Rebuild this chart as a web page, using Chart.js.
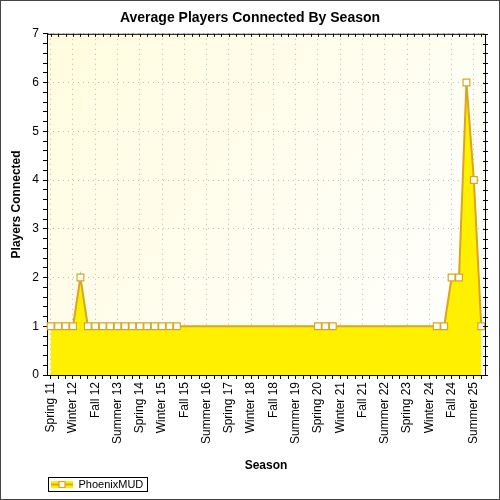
<!DOCTYPE html>
<html>
<head>
<meta charset="utf-8">
<script src="https://cdn.jsdelivr.net/npm/chart.js@4.4.1/dist/chart.umd.min.js"></script>
<style>
  html, body { margin: 0; padding: 0; background: #ffffff; }
  #wrap { width: 500px; height: 500px; }
</style>
</head>
<body>
<div id="wrap"><canvas id="grafico" width="500" height="500"></canvas></div>
<script>
// Seasons on the x axis (every third one gets a label)
const seasons = [
    "Spring 11", "Summer 11", "Fall 11",
    "Winter 12", "Spring 12", "Summer 12", "Fall 12",
    "Winter 13", "Spring 13", "Summer 13", "Fall 13",
    "Winter 14", "Spring 14", "Summer 14", "Fall 14",
    "Winter 15", "Spring 15", "Summer 15", "Fall 15",
    "Winter 16", "Spring 16", "Summer 16", "Fall 16",
    "Winter 17", "Spring 17", "Summer 17", "Fall 17",
    "Winter 18", "Spring 18", "Summer 18", "Fall 18",
    "Winter 19", "Spring 19", "Summer 19", "Fall 19",
    "Winter 20", "Spring 20", "Summer 20", "Fall 20",
    "Winter 21", "Spring 21", "Summer 21", "Fall 21",
    "Winter 22", "Spring 22", "Summer 22", "Fall 22",
    "Winter 23", "Spring 23", "Summer 23", "Fall 23",
    "Winter 24", "Spring 24", "Summer 24", "Fall 24",
    "Winter 25", "Spring 25", "Summer 25", "Fall 25"
];

// Average players per season, null = no data recorded
const phoenixMud = [
    1, 1, 1, 1, 2, 1, 1, 1, 1, 1, 1, 1, 1, 1, 1, 1, 1, 1,
    null, null, null, null, null, null, null, null, null,
    null, null, null, null, null, null, null, null, null,
    1, 1, 1,
    null, null, null, null, null, null, null, null, null, null, null, null, null,
    1, 1, 2, 2, 6, 4, 1
];

const yTickLabels = [0, 1, 2, 3, 4, 5, 6, 7];

const LINE_COLOR = "#DAA520";
const FILL_COLOR = "#FFF000";
const GRID_COLOR = "#BBBBBB";
const FONT = "'Liberation Sans', Arial, sans-serif";

const isWhole = v => Math.abs(v - Math.round(v)) < 1e-6;

// Background gradient in the plot area and outer frame
const decoPlugin = {
    id: "deco",
    beforeDraw(chart) {
        const { ctx, chartArea: a } = chart;
        ctx.save();
        ctx.fillStyle = "#ffffff";
        ctx.fillRect(0, 0, chart.width, chart.height);
        const g = ctx.createLinearGradient(a.left, a.top, a.right, a.bottom);
        g.addColorStop(0, "#FFFCDE");
        g.addColorStop(1, "#FFFFFF");
        ctx.fillStyle = g;
        ctx.fillRect(a.left, a.top, a.right - a.left, a.bottom - a.top);
        ctx.restore();
    },
    afterDraw(chart) {
        const { ctx, chartArea: a, scales } = chart;
        ctx.save();
        // top and right borders with small ticks
        ctx.strokeStyle = "#000000";
        ctx.lineWidth = 1;
        ctx.beginPath();
        ctx.moveTo(a.left, a.top + 0.5);
        ctx.lineTo(a.right + 0.5, a.top + 0.5);
        ctx.lineTo(a.right + 0.5, a.bottom);
        seasons.forEach((s, i) => {
            const x = Math.round(scales.x.getPixelForValue(i)) + 0.5;
            ctx.moveTo(x, a.top);
            ctx.lineTo(x, a.top + 3);
        });
        scales.y.ticks.forEach(t => {
            const y = Math.round(scales.y.getPixelForValue(t.value)) + 0.5;
            ctx.moveTo(a.right - 2, y);
            ctx.lineTo(a.right + 3, y);
        });
        ctx.stroke();

        // legend frame and symbol
        const hb = chart.legend.legendHitBoxes[0];
        if (hb) {
            ctx.strokeStyle = "#000000";
            ctx.strokeRect(Math.round(hb.left) - 2.5, Math.round(hb.top) - 1.5, Math.round(hb.width) + 7, Math.round(hb.height) + 3);
            const cy = hb.top + hb.height / 2;
            ctx.strokeStyle = LINE_COLOR;
            ctx.lineWidth = 2;
            ctx.beginPath();
            ctx.moveTo(hb.left, cy);
            ctx.lineTo(hb.left + 22, cy);
            ctx.stroke();
            ctx.fillStyle = "#ffffff";
            ctx.lineWidth = 1.2;
            ctx.fillRect(hb.left + 8, cy - 3, 6, 6);
            ctx.strokeRect(hb.left + 8, cy - 3, 6, 6);
        }

        // frame around whole picture
        ctx.strokeStyle = "#444444";
        ctx.lineWidth = 1;
        ctx.strokeRect(0.5, 0.5, chart.width - 1, chart.height - 1);
        ctx.restore();
    }
};

const ctx = document.getElementById("grafico").getContext("2d");
const grafico = new Chart(ctx, {
    type: "line",
    data: {
        labels: seasons,
        datasets: [
            {
                label: "PhoenixMUD",
                data: phoenixMud,
                borderColor: LINE_COLOR,
                backgroundColor: FILL_COLOR,
                borderWidth: 2,
                fill: "origin",
                tension: 0,
                spanGaps: true,
                // gaps keep the fill at the last level but have no line
                segment: {
                    borderColor: c => (c.p1DataIndex - c.p0DataIndex > 1 ? "rgba(0,0,0,0)" : undefined)
                },
                pointStyle: "rect",
                pointRadius: 4.8,
                pointBorderWidth: 1.2,
                pointBackgroundColor: "#ffffff",
                pointBorderColor: LINE_COLOR
            }
        ]
    },
    plugins: [decoPlugin],
    options: {
        responsive: false,
        animation: false,
        devicePixelRatio: 1,
        layout: { padding: { left: 0, right: 0, top: 0, bottom: 0 } },
        plugins: {
            title: {
                display: true,
                text: "Average Players Connected By Season",
                color: "#000000",
                font: { family: FONT, size: 14, weight: "bold" },
                padding: { top: 10, bottom: 7 }
            },
            legend: {
                position: "bottom",
                align: "start",
                fullSize: false,
                labels: {
                    color: "#000000",
                    font: { family: FONT, size: 11 },
                    boxWidth: 22,
                    boxHeight: 7,
                    padding: 4,
                    generateLabels: chart => Chart.defaults.plugins.legend.labels.generateLabels(chart).map(l => {
                        l.fillStyle = FILL_COLOR;
                        l.strokeStyle = FILL_COLOR;
                        l.lineWidth = 0;
                        return l;
                    })
                }
            },
            tooltip: { enabled: false }
        },
        scales: {
            x: {
                offset: true,
                afterFit: s => { s.height = 100; },
                border: { color: "#000000", width: 1, dash: [1, 4] },
                grid: {
                    offset: false,
                    color: c => (c.index % 3 === 0 ? GRID_COLOR : "rgba(0,0,0,0)"),
                    tickColor: "#000000",
                    tickLength: 4,
                    tickBorderDash: [],
                    lineWidth: 1
                },
                ticks: {
                    autoSkip: false,
                    maxRotation: 90,
                    minRotation: 90,
                    padding: 3,
                    color: "#000000",
                    font: { family: FONT, size: 12 },
                    callback: (v, i) => (i % 3 === 0 ? seasons[i] : "")
                },
                title: {
                    display: true,
                    text: "Season",
                    color: "#000000",
                    font: { family: FONT, size: 12, weight: "bold" },
                    padding: { top: 2, bottom: 2 }
                }
            },
            y: {
                min: 0,
                max: 7,
                afterFit: s => { s.width = 47; },
                border: { color: "#000000", width: 1, dash: [1, 4] },
                grid: {
                    color: c => (isWhole(c.tick.value) ? GRID_COLOR : "rgba(0,0,0,0)"),
                    tickColor: "#000000",
                    tickLength: 4,
                    tickBorderDash: []
                },
                ticks: {
                    stepSize: 0.2,
                    maxTicksLimit: 100,
                    autoSkip: false,
                    padding: 4,
                    color: "#000000",
                    font: { family: FONT, size: 12 },
                    callback: v => (isWhole(v) && yTickLabels.includes(Math.round(v)) ? String(Math.round(v)) : "")
                },
                title: {
                    display: true,
                    text: "Players Connected",
                    color: "#000000",
                    font: { family: FONT, size: 12, weight: "bold" },
                    padding: { top: 9, bottom: 0 }
                }
            },
            // empty spacer on the right so the title stays centred on the page
            yRight: {
                position: "right",
                display: true,
                afterFit: s => { s.width = 15; },
                border: { display: false },
                grid: { display: false },
                ticks: { display: false }
            }
        }
    }
});
</script>
</body>
</html>
